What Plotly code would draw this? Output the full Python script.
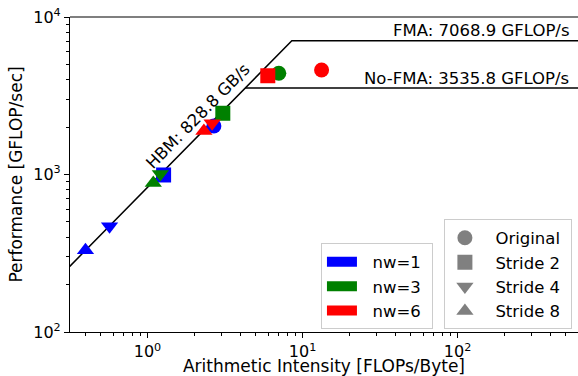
import math
import plotly.graph_objects as go

# ---- data ----
nw_labels = ["nw=1", "nw=3", "nw=6"]
nw_colors = ["#0000ff", "#008000", "#ff0000"]
stride_labels = ["Original", "Stride 2", "Stride 4", "Stride 8"]
stride_symbols = ["circle", "square", "triangle-down", "triangle-up"]

ai_nw1 = [2.68, 1.27, 0.569, 0.398]
perf_nw1 = [2030, 993, 469, 330]
ai_nw3 = [7.03, 3.06, 1.21, 1.09]
perf_nw3 = [4395, 2448, 1007, 883]
ai_nw6 = [13.27, 5.97, 2.61, 2.31]
perf_nw6 = [4604, 4236, 2113, 1888]

hbm_bw = 828.8
fma_peak = 7068.9
nofma_peak = 3535.8

x_tick_vals = [1, 10, 100]
x_tick_text = ["10<sup>0</sup>", "10<sup>1</sup>", "10<sup>2</sup>"]
y_tick_vals = [100, 1000, 10000]
y_tick_text = ["10<sup>2</sup>", "10<sup>3</sup>", "10<sup>4</sup>"]

FONT = "DejaVu Sans"
TXT = 16.5

fig = go.Figure()

# roofline
fma_ridge = fma_peak / hbm_bw
nofma_ridge = nofma_peak / hbm_bw
x_lo, x_hi = 0.1, 5000
fig.add_trace(go.Scatter(
    x=[x_lo, fma_ridge, x_hi], y=[hbm_bw * x_lo, fma_peak, fma_peak],
    mode="lines", line=dict(color="black", width=1.5), showlegend=False, hoverinfo="skip"))
fig.add_trace(go.Scatter(
    x=[nofma_ridge, x_hi], y=[nofma_peak, nofma_peak],
    mode="lines", line=dict(color="black", width=1.5), showlegend=False, hoverinfo="skip"))

# data points
series = [(ai_nw1, perf_nw1), (ai_nw3, perf_nw3), (ai_nw6, perf_nw6)]
for (ais, perfs), color in zip(series, nw_colors):
    for ai, pf, sym in zip(ais, perfs, stride_symbols):
        fig.add_trace(go.Scatter(
            x=[ai], y=[pf], mode="markers",
            marker=dict(symbol=sym, size=15, color=color, line=dict(width=0)),
            showlegend=False))

# legend 1: colours
for i, (lab, color) in enumerate(zip(nw_labels, nw_colors)):
    fig.add_trace(go.Scatter(
        x=[None], y=[None], mode="lines", name="\u00a0\u00a0" + lab + "\u00a0",
        line=dict(color=color, width=13), legend="legend", legendgroup="c%d" % i))

# legend 2: markers
for i, (lab, sym) in enumerate(zip(stride_labels, stride_symbols)):
    fig.add_trace(go.Scatter(
        x=[None], y=[None], mode="markers", name="\u00a0\u00a0" + lab + "\u00a0",
        marker=dict(symbol=sym, size=15, color="#808080"),
        legend="legend2", legendgroup="s%d" % i))

# annotations (log axes: positions given in log10 units)
fig.add_annotation(x=1.0, xref="paper", y=math.log10(fma_peak), yref="y", yshift=10,
                   text="FMA: 7068.9 GFLOP/s", showarrow=False, xanchor="right",
                   yanchor="middle", xshift=-7, font=dict(family=FONT, size=TXT, color="black"))
fig.add_annotation(x=1.0, xref="paper", y=math.log10(nofma_peak), yref="y", yshift=10,
                   text="No-FMA: 3535.8 GFLOP/s", showarrow=False, xanchor="right",
                   yanchor="middle", xshift=-7, font=dict(family=FONT, size=TXT, color="black"))
fig.add_annotation(x=math.log10(2.2), y=math.log10(2250), xref="x", yref="y",
                   xshift=-3, yshift=3,
                   text="HBM: 828.8 GB/s", showarrow=False, textangle=-45.5,
                   font=dict(family=FONT, size=TXT, color="black"))

# top border of the axes
fig.add_shape(type="line", xref="paper", yref="paper", x0=0, x1=1, y0=1, y1=1,
              line=dict(color="black", width=1.2))

legend_common = dict(
    bgcolor="rgba(255,255,255,0.85)", bordercolor="#cccccc", borderwidth=1,
    font=dict(family=FONT, size=TXT, color="black"), tracegroupgap=0,
    yanchor="bottom", y=0.008, itemsizing="trace")

fig.update_layout(
    width=578, height=376,
    margin=dict(l=70, r=0, t=17, b=44, autoexpand=False),
    plot_bgcolor="white", paper_bgcolor="white",
    font=dict(family=FONT, size=TXT, color="black"),
    legend=dict(**legend_common, x=0.494, xanchor="left"),
    legend2=dict(**legend_common, x=0.988, xanchor="right"),
    xaxis=dict(
        type="log", range=[-0.5, 2.777], showgrid=False, zeroline=False,
        showline=True, linecolor="black", linewidth=1.2,
        tickmode="array", tickvals=x_tick_vals, ticktext=x_tick_text,
        ticks="outside", ticklen=5, tickwidth=1, tickcolor="black",
        tickfont=dict(family=FONT, size=16),
        minor=dict(tickmode="array",
                   tickvals=[m * 10 ** e for e in range(-1, 4) for m in range(2, 10)],
                   ticks="outside", ticklen=3, tickwidth=0.8, tickcolor="black", showgrid=False),
        title=dict(text="Arithmetic Intensity [FLOPs/Byte]", font=dict(family=FONT, size=17), standoff=5),
    ),
    yaxis=dict(
        type="log", range=[2, 4], showgrid=False, zeroline=False,
        showline=True, linecolor="black", linewidth=1.2,
        tickmode="array", tickvals=y_tick_vals, ticktext=y_tick_text,
        ticks="outside", ticklen=5, tickwidth=1, tickcolor="black",
        tickfont=dict(family=FONT, size=16),
        minor=dict(tickmode="array",
                   tickvals=[m * 10 ** e for e in range(2, 4) for m in range(2, 10)],
                   ticks="outside", ticklen=3, tickwidth=0.8, tickcolor="black", showgrid=False),
        title=dict(text="Performance [GFLOP/sec]", font=dict(family=FONT, size=17), standoff=6),
    ),
)

fig.write_html("out.html", config={"displayModeBar": False},
               post_script="document.body.style.margin='0';")
